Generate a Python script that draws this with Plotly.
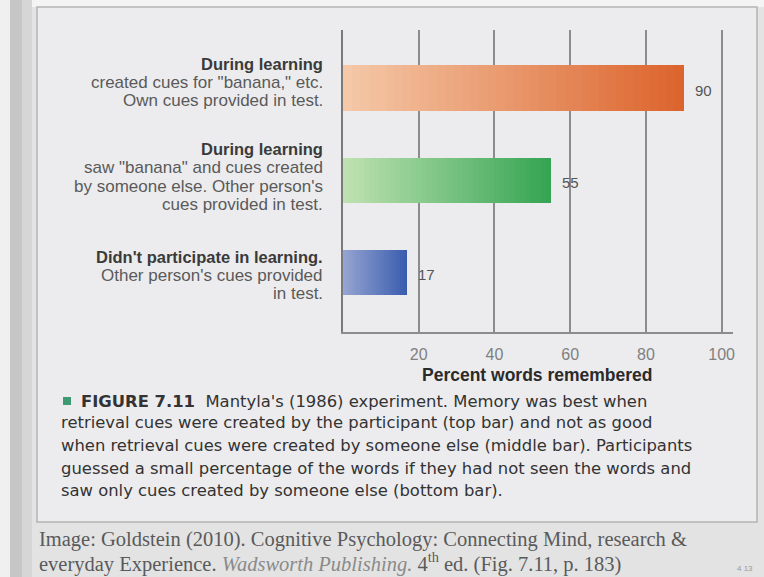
import plotly.graph_objects as go

# ---------------- data ----------------
categories = ["No learning", "Other's cues", "Own cues"]          # bottom -> top
values = [17, 55, 90]
label_lines = [
    ["<b>Didn't participate in learning.</b>", "Other person's cues provided", "in test."],
    ["<b>During learning</b>", "saw \"banana\" and cues created", "by someone else. Other person's", "cues provided in test."],
    ["<b>During learning</b>", "created cues for \"banana,\" etc.", "Own cues provided in test."],
]
label_center_shift = [-3, 3, 6]   # px offset of label block relative to bar centre
tick_vals = [20, 40, 60, 80, 100]
x_title = "Percent words remembered"
caption_lines = [
    "<b>FIGURE 7.11</b>  Mantyla's (1986) experiment. Memory was best when",
    "retrieval cues were created by the participant (top bar) and not as good",
    "when retrieval cues were created by someone else (middle bar). Participants",
    "guessed a small percentage of the words if they had not seen the words and",
    "saw only cues created by someone else (bottom bar).",
]
footer_lines = [
    "Image: Goldstein (2010). Cognitive Psychology: Connecting Mind, research &",
    "everyday Experience. <i><span style='color:#8a8a8a'>Wadsworth Publishing.</span></i> 4<sup>th</sup> ed. (Fig. 7.11, p. 183)",
]

# gradient colours (left -> right) per bar
grad_start = ["#97a6d2", "#c0e2b2", "#f5c9a9"]
grad_end = ["#3a5cae", "#33a452", "#dc632c"]

# ---------------- layout geometry ----------------
W, H = 764, 577
L, R, T, B = 343, 31, 30, 245
PW, PH = W - L - R, H - T - B


def px(x):
    return (x - L) / PW


def py(y):
    return (H - B - y) / PH


def hex2rgb(h):
    h = h.lstrip("#")
    return [int(h[i:i + 2], 16) for i in (0, 2, 4)]


def mix(a, b, t):
    ca, cb = hex2rgb(a), hex2rgb(b)
    return "rgb(%d,%d,%d)" % tuple(round(ca[i] + (cb[i] - ca[i]) * t) for i in range(3))


fig = go.Figure()

N = 40
for k in range(N):
    t = (k + 0.5) / N
    fig.add_trace(go.Bar(
        y=categories,
        x=[v / N for v in values],
        base=[v * k / N for v in values],
        orientation="h",
        width=0.49,
        marker=dict(color=[mix(grad_start[i], grad_end[i], t) for i in range(3)],
                    line=dict(width=0)),
        showlegend=False,
        hoverinfo="skip",
    ))

annotations = []
# value labels
for c, v in zip(categories, values):
    annotations.append(dict(x=v, y=c, xref="x", yref="y", text=str(v), showarrow=False,
                            xanchor="left", xshift=9, yshift=-2,
                            font=dict(family="Liberation Sans", size=15, color="#555555")))
# category labels
LS = 18.5
for i, c in enumerate(categories):
    lines = label_lines[i]
    n = len(lines)
    for j, line in enumerate(lines):
        shift = ((n - 1) / 2 - j) * LS + label_center_shift[i]
        annotations.append(dict(x=px(325), y=c, xref="paper", yref="y", text=line,
                                showarrow=False, xanchor="right", yanchor="middle",
                                yshift=shift,
                                font=dict(family="Liberation Sans",
                                          size=16.5 if j == 0 else 17,
                                          color="#3a3a3a" if j == 0 else "#5a5a5a")))
# x axis title
annotations.append(dict(x=px(537), y=py(375), xref="paper", yref="paper", text="<b>" + x_title + "</b>",
                        showarrow=False, xanchor="center", yanchor="middle",
                        font=dict(family="Liberation Sans", size=17.5, color="#2a2a2a")))
# caption
cap_y = [401, 423, 445, 468, 490]
for j, line in enumerate(caption_lines):
    annotations.append(dict(x=px(79 if j == 0 else 59), y=py(cap_y[j]), xref="paper", yref="paper",
                            text=line, showarrow=False, xanchor="left", yanchor="middle",
                            font=dict(family="DejaVu Sans", size=16.4, color="#333333")))
# footer
foot_y = [539, 562]
for j, line in enumerate(footer_lines):
    annotations.append(dict(x=px(37), y=py(foot_y[j]), xref="paper", yref="paper",
                            text=line, showarrow=False, xanchor="left", yanchor="middle",
                            font=dict(family="Liberation Serif", size=20.5, color="#5a5a5a")))
annotations.append(dict(x=px(755), y=py(568), xref="paper", yref="paper", text="4 13",
                        showarrow=False, xanchor="right", yanchor="middle",
                        font=dict(family="Liberation Sans", size=8, color="#9a9a9a")))

shapes = [
    # left photo edge strip
    dict(type="rect", xref="paper", yref="paper", x0=px(0), x1=px(10), y0=py(577), y1=py(0),
         fillcolor="#f0f0f0", line=dict(width=0), layer="below"),
    dict(type="rect", xref="paper", yref="paper", x0=px(10), x1=px(22), y0=py(577), y1=py(0),
         fillcolor="#c6c6c6", line=dict(width=0), layer="below"),
    dict(type="rect", xref="paper", yref="paper", x0=px(22), x1=px(32), y0=py(577), y1=py(0),
         fillcolor="#d6d6d6", line=dict(width=0), layer="below"),
    # top light strip
    dict(type="rect", xref="paper", yref="paper", x0=px(32), x1=px(764), y0=py(7), y1=py(0),
         fillcolor="#f4f4f4", line=dict(width=0), layer="below"),
    # figure panel box
    dict(type="rect", xref="paper", yref="paper", x0=px(37), x1=px(757), y0=py(522), y1=py(7),
         fillcolor="#ececee", line=dict(color="#b4b4b4", width=1.5), layer="below"),
    # caption bullet
    dict(type="rect", xref="paper", yref="paper", x0=px(63), x1=px(71), y0=py(405), y1=py(397),
         fillcolor="#3e9a70", line=dict(width=0)),
]

fig.update_layout(
    width=W, height=H,
    margin=dict(l=L, r=R, t=T, b=B, pad=0),
    paper_bgcolor="#e3e3e3",
    plot_bgcolor="rgba(0,0,0,0)",
    barmode="overlay",
    bargap=0,
    showlegend=False,
    annotations=annotations,
    shapes=shapes,
    xaxis=dict(range=[0, 103], tickvals=tick_vals, ticktext=[str(t) for t in tick_vals],
               showgrid=True, gridcolor="#8c8c8c", gridwidth=1.6,
               showline=True, linecolor="#8c8c8c", linewidth=1.6,
               ticks="", zeroline=False,
               tickfont=dict(family="Liberation Sans", size=16, color="#808080"),
               ticklabelstandoff=7, fixedrange=True),
    yaxis=dict(type="category", categoryorder="array", categoryarray=categories,
               range=[-0.65, 2.63], showticklabels=False, showgrid=False,
               showline=True, linecolor="#7a7a7a", linewidth=1.6, ticks="",
               zeroline=False, fixedrange=True),
)

fig.write_html("out.html")
